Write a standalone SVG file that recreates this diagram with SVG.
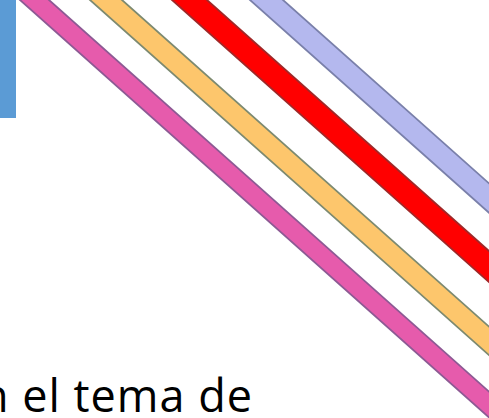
<svg xmlns="http://www.w3.org/2000/svg" width="489" height="418" viewBox="0 0 489 418">
<style>
.stripe{stroke-width:1.8;stroke-linejoin:miter}
.pink{fill:#e65bac;stroke:#8d5a94}
.orange{fill:#fdc66c;stroke:#7d8a70}
.red{fill:#ff0000;stroke:#a02828}
.lav{fill:#b4b8ee;stroke:#7a80aa}
.txt{font-family:"Open Sans","Liberation Sans",sans-serif;font-size:45px;fill:#000}
</style>
<rect width="489" height="418" fill="#ffffff"/>
<g id="accent-bar"><rect x="0" y="0" width="16" height="118" fill="#5b9bd5"/></g>
<g id="stripes">
<polygon id="stripe-pink" class="stripe pink" points="14.4,-5 43.4,-5 532.1,430 503.1,430"/>
<polygon id="stripe-orange" class="stripe orange" points="84.4,-5 116.4,-5 605.1,430 573.1,430"/>
<polygon id="stripe-red" class="stripe red" points="166.4,-5 201.4,-5 690.1,430 655.1,430"/>
<polygon id="stripe-lavender" class="stripe lav" points="244.4,-5 277.4,-5 766.1,430 733.1,430"/>
</g>
<g id="caption"><text class="txt" x="-19" y="412" textLength="271" lengthAdjust="spacing">n el tema de</text></g>
</svg>
